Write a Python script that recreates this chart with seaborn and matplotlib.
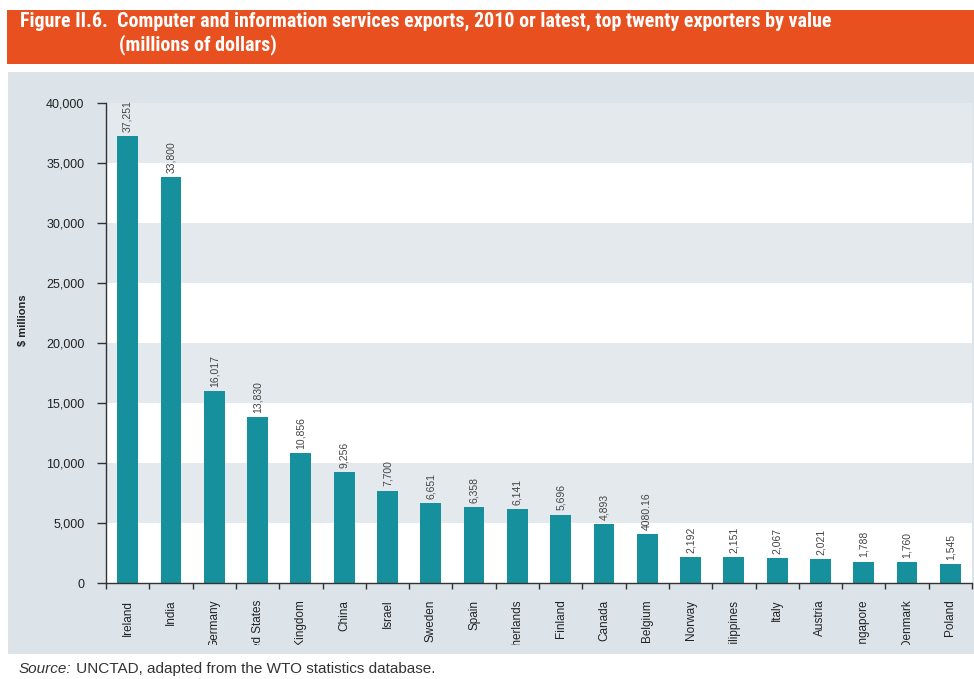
import matplotlib
matplotlib.use("Agg")
import matplotlib.pyplot as plt
from matplotlib import font_manager as fm
from matplotlib.patches import Rectangle
from matplotlib.transforms import Bbox, TransformedBbox
from matplotlib.ticker import FixedLocator, FuncFormatter
import seaborn as sns
import pandas as pd

# Top twenty exporters of computer and information services (millions of dollars)
countries = ["Ireland", "India", "Germany", "United States", "United Kingdom",
             "China", "Israel", "Sweden", "Spain", "Netherlands", "Finland",
             "Canada", "Belgium", "Norway", "Philippines", "Italy", "Austria",
             "Singapore", "Denmark", "Poland"]
exports = [37251, 33800, 16017, 13830, 10856, 9256, 7700, 6651, 6358, 6141,
           5696, 4893, 4080.16, 2192, 2151, 2067, 2021, 1788, 1760, 1545]
y_ticks = [0, 5000, 10000, 15000, 20000, 25000, 30000, 35000, 40000]

title_line1 = "Figure II.6.  Computer and information services exports, 2010 or latest, top twenty exporters by value"
title_line2 = "(millions of dollars)"
y_label = "$ millions"
source_label = "Source:"
source_text = " UNCTAD, adapted from the WTO statistics database."

df = pd.DataFrame({"country": countries, "value": exports})

sns.set_theme(style="white")
plt.rcParams["font.family"] = ["Liberation Sans", "DejaVu Sans"]


def first_font(candidates):
    for name in candidates:
        try:
            fm.findfont(fm.FontProperties(family=name), fallback_to_default=False)
            return name
        except ValueError:
            continue
    return "DejaVu Sans"


title_family = first_font(["Liberation Sans Narrow", "Roboto Condensed",
                           "Open Sans Condensed", "Roboto"])

W, H = 974, 679
fig = plt.figure(figsize=(W / 100, H / 100), dpi=100)
fig.patch.set_facecolor("white")

ORANGE = "#E9501F"
PANEL = "#DCE4EA"
STRIPE = "#E4E9ED"
TEAL = "#17909D"

# header band and grey panel behind the chart
fig.add_artist(Rectangle((7 / W, 1 - 64 / H), 1 - 7 / W, 54 / H,
                         transform=fig.transFigure, facecolor=ORANGE,
                         edgecolor="none", zorder=-10))
fig.add_artist(Rectangle((8 / W, 1 - 654 / H), 1 - 8 / W, (654 - 72) / H,
                         transform=fig.transFigure, facecolor=PANEL,
                         edgecolor="none", zorder=-10))

t1 = fig.text(20 / W, 1 - 21 / H, title_line1, color="white", fontsize=13,
              fontweight="bold", family=title_family, fontstretch="condensed",
              va="center", ha="left")
t2 = fig.text(119 / W, 1 - 45 / H, title_line2, color="white", fontsize=13,
              fontweight="bold", family=title_family, fontstretch="condensed",
              va="center", ha="left")

ax = fig.add_axes([106 / W, 96 / H, (972 - 106) / W, (583 - 103) / H])
ax.set_zorder(1)
ax.set_facecolor("white")

# alternating horizontal bands
for i, lo in enumerate(y_ticks[:-1]):
    if i % 2 == 1:
        ax.axhspan(lo, y_ticks[i + 1], color=STRIPE, zorder=0, lw=0)

sns.barplot(data=df, x="country", y="value", color=TEAL, width=0.48,
            saturation=1, linewidth=0, ax=ax, zorder=2)

ax.set_xlim(-0.5, len(countries) - 0.5)
ax.set_ylim(0, 40000)
ax.set_xlabel("")
ax.set_ylabel("")

for side in ["top", "right"]:
    ax.spines[side].set_visible(False)
for side in ["left", "bottom"]:
    ax.spines[side].set_color("#333333")
    ax.spines[side].set_linewidth(1.0)

ax.yaxis.set_major_locator(FixedLocator(y_ticks))
ax.yaxis.set_major_formatter(FuncFormatter(lambda v, p: f"{v:,.0f}"))
ax.tick_params(axis="y", which="major", direction="out", length=6.5, width=1,
               color="#333333", pad=9, labelsize=9, labelcolor="#222222", left=True)

# tick marks between categories, labels under the bars
ax.xaxis.set_minor_locator(FixedLocator([i - 0.5 for i in range(len(countries) + 1)]))
ax.tick_params(axis="x", which="minor", direction="out", length=4.5, width=1,
               color="#333333", bottom=True)
ax.set_xticks(range(len(countries)))
ax.set_xticklabels(countries, rotation=90, ha="center", va="top")
ax.tick_params(axis="x", which="major", length=0, pad=12, labelsize=8.5,
               labelcolor="#222222")
clip = TransformedBbox(Bbox([[0, 1 - 645 / H], [1, 1 - 585 / H]]), fig.transFigure)
for lbl in ax.get_xticklabels():
    lbl.set_clip_box(clip)
    lbl.set_clip_on(True)

# value labels above the bars
for i, v in enumerate(exports):
    txt = f"{v:,.0f}" if float(v).is_integer() else f"{v:.2f}"
    ax.annotate(txt, xy=(i, v), xytext=(0, 3), textcoords="offset points",
                rotation=90, ha="center", va="bottom", fontsize=7.5,
                color="#444444", zorder=3)

fig.text(23 / W, 1 - 320 / H, y_label, rotation=90, fontsize=8,
         fontweight="bold", color="#222222", va="center", ha="center")

src = fig.text(19 / W, 1 - 669 / H, source_label, fontsize=11, style="italic",
               color="#333333", va="center", ha="left")
ax.annotate(source_text, xy=(1, 0), xycoords=src, va="bottom", ha="left",
            fontsize=11, color="#333333", annotation_clip=False)

# fit the title line to the header width
renderer = fig.canvas.get_renderer()
width = t1.get_window_extent(renderer).width
scale = (830 - 20) / width
for t in (t1, t2):
    t.set_fontsize(13 * scale)

fig.savefig("out.png", dpi=100, facecolor="white")
